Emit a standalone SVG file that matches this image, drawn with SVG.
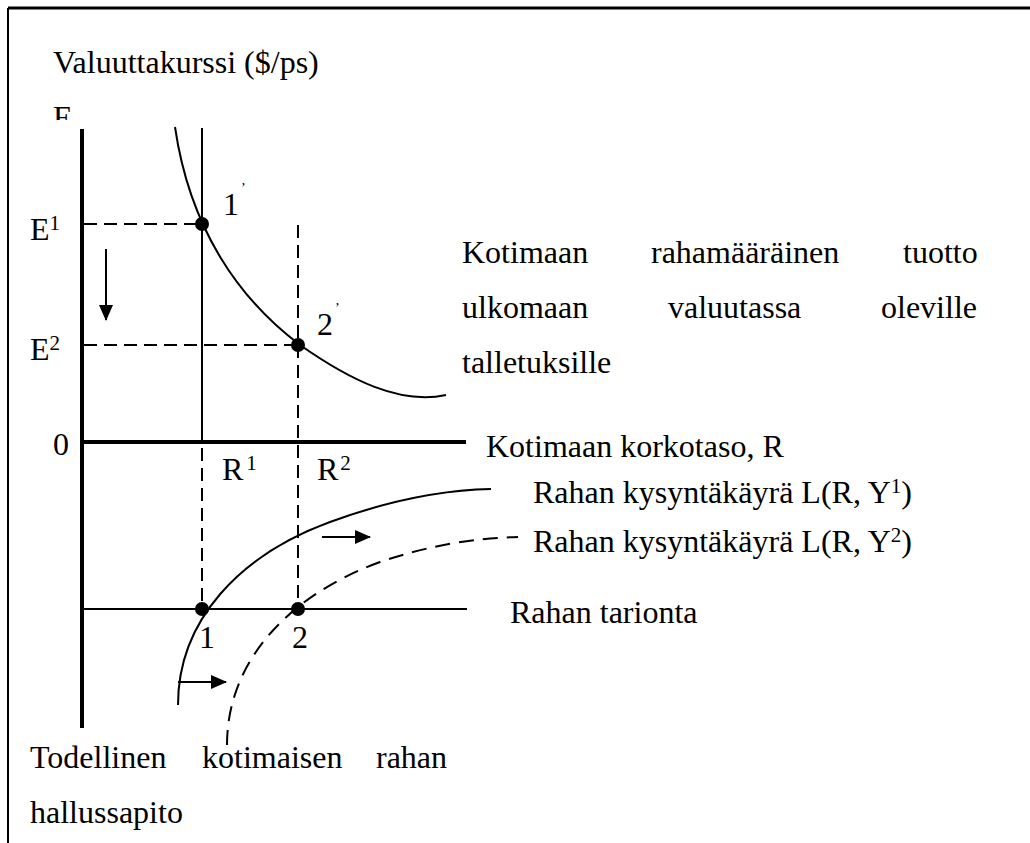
<svg xmlns="http://www.w3.org/2000/svg" width="1030" height="843" viewBox="0 0 1030 843">
<style>
text{font-family:"Liberation Serif","Times New Roman",serif;font-size:32px;fill:#000}
.sup{font-size:21px}
.pr{font-size:14px}
.thin{stroke:#000;stroke-width:2;fill:none}
.thick{stroke:#000;stroke-width:4;fill:none}
.dash{stroke:#000;stroke-width:2;fill:none;stroke-dasharray:13 7}
.dash2{stroke:#000;stroke-width:2;fill:none;stroke-dasharray:15 9}
.arr{stroke:#000;stroke-width:2;fill:none;marker-end:url(#ah)}
.pt{fill:#000}
</style>
<defs>
<marker id="ah" markerUnits="userSpaceOnUse" markerWidth="16" markerHeight="14" refX="15" refY="7" orient="auto">
<path d="M0,0 L16,7 L0,14 z" fill="#000"/>
</marker>
<clipPath id="clipE"><rect x="40" y="95" width="60" height="25"/></clipPath>
</defs>
<rect width="1030" height="843" fill="#fff"/>
<g id="frame">
<line x1="8" y1="8" x2="1030" y2="8" stroke="#000" stroke-width="3"/>
<line x1="8" y1="8" x2="8" y2="843" stroke="#000" stroke-width="2"/>
</g>
<g id="connectors">
<line class="thick" x1="82" y1="129" x2="82" y2="728"/>
<line class="thick" x1="82" y1="442" x2="466" y2="442"/>
<line class="thin" x1="82" y1="609" x2="467" y2="609"/>
<line class="thin" x1="202" y1="128" x2="202" y2="442"/>
<line class="dash" x1="202" y1="448" x2="202" y2="609"/>
<line class="dash" x1="298" y1="225" x2="298" y2="609"/>
<line class="dash" x1="84" y1="224" x2="202" y2="224"/>
<line class="dash" x1="84" y1="345" x2="298" y2="345"/>
<path class="thin" d="M175,127 C190,230 240,300 300,345 C350,380 400,405 446,395"/>
<path class="thin" d="M178,705 C178,620 240,555 330,522 C390,500 440,490 491,489"/>
<path class="dash2" d="M227,745 C227,660 290,595 380,562 C430,545 475,538 518,537"/>
<line class="arr" x1="106" y1="249" x2="106" y2="320"/>
<line class="arr" x1="322" y1="537" x2="370" y2="537"/>
<line class="arr" x1="178" y1="682" x2="226" y2="682"/>
</g>
<g id="point-1p"><circle class="pt" cx="202" cy="224" r="7"/><text x="223" y="215">1<tspan class="pr" dx="2" dy="-22">’</tspan></text></g>
<g id="point-2p"><circle class="pt" cx="298" cy="345" r="7"/><text x="317" y="335">2<tspan class="pr" dx="2" dy="-22">’</tspan></text></g>
<g id="point-1"><circle class="pt" cx="202" cy="609" r="7"/><text x="199" y="648">1</text></g>
<g id="point-2"><circle class="pt" cx="298" cy="609" r="7"/><text x="292" y="648">2</text></g>
<g id="labels">
<text x="53" y="73">Valuuttakurssi ($/ps)</text>
<text x="53" y="128" clip-path="url(#clipE)">E</text>
<text x="30" y="240">E<tspan class="sup" dy="-10">1</tspan></text>
<text x="30" y="360">E<tspan class="sup" dy="-10">2</tspan></text>
<text x="53" y="455">0</text>
<text x="222" y="480">R<tspan class="sup" dx="3" dy="-10">1</tspan></text>
<text x="317" y="480">R<tspan class="sup" dx="2" dy="-10">2</tspan></text>
<text x="462" y="263">Kotimaan</text>
<text x="651" y="263">rahamääräinen</text>
<text x="903" y="263">tuotto</text>
<text x="462" y="318">ulkomaan</text>
<text x="668" y="318">valuutassa</text>
<text x="881" y="318">oleville</text>
<text x="462" y="373">talletuksille</text>
<text x="486" y="457">Kotimaan korkotaso, R</text>
<text x="533" y="503">Rahan kysyntäkäyrä L(R, Y<tspan class="sup" dy="-10">1</tspan><tspan dy="10">)</tspan></text>
<text x="533" y="552">Rahan kysyntäkäyrä L(R, Y<tspan class="sup" dy="-10">2</tspan><tspan dy="10">)</tspan></text>
<text x="510" y="623">Rahan tarionta</text>
<text x="30" y="768">Todellinen</text>
<text x="202" y="768">kotimaisen</text>
<text x="376" y="768">rahan</text>
<text x="30" y="823">hallussapito</text>
</g>
</svg>
